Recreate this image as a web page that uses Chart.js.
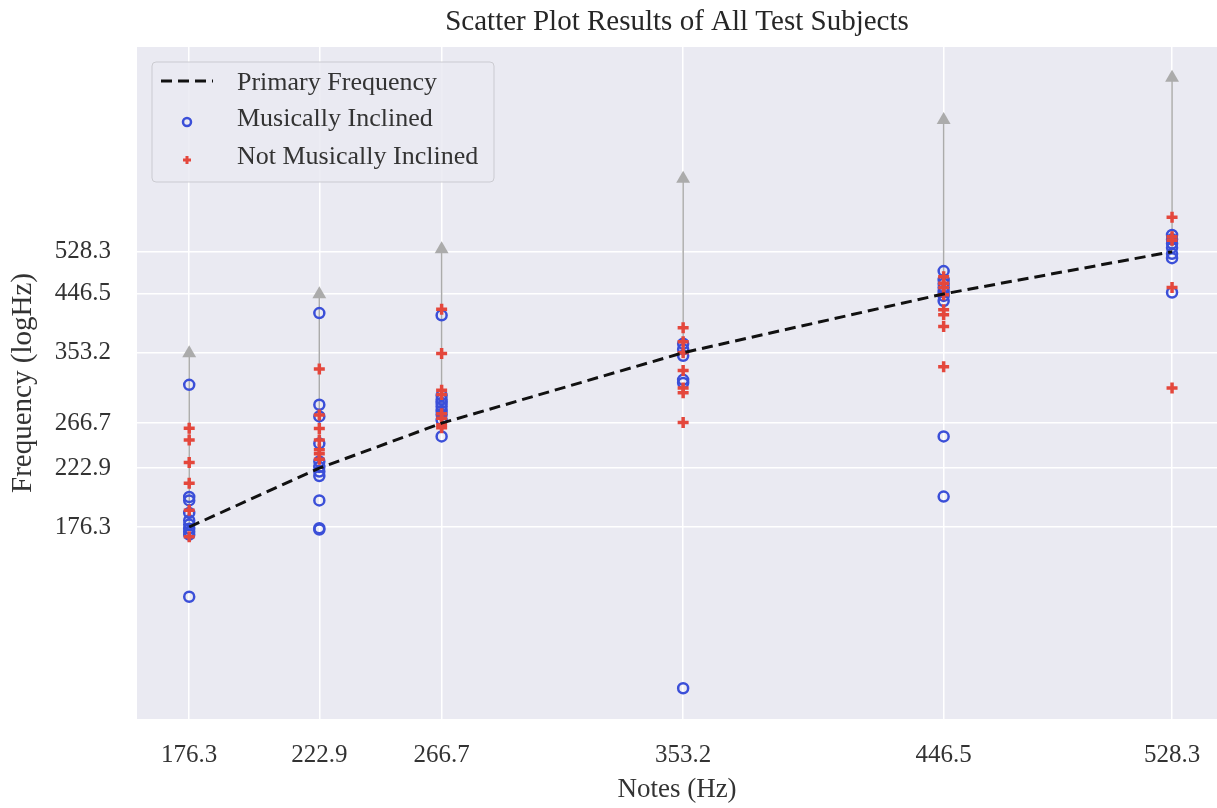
<!DOCTYPE html>
<html>
<head>
<meta charset="utf-8">
<title>Scatter Plot Results of All Test Subjects</title>
<script src="https://cdn.jsdelivr.net/npm/chart.js@4.4.1/dist/chart.umd.min.js"></script>
<style>
  html, body { margin: 0; padding: 0; background: #ffffff; overflow: hidden; }
  #wrap { width: 1217px; height: 808px; position: relative; }
  #myChart { display: block; }
</style>
</head>
<body>
<div id="wrap"><canvas id="myChart"></canvas></div>
<script>
// Notes played (Hz) and the octave above each one (end of the grey arrows)
const notes = [176.3, 222.9, 266.7, 353.2, 446.5, 528.3];
const octaves = [352.6, 445.8, 533.4, 706.4, 893.0, 1056.6];

// Answers of the musically inclined subjects, one list per note
const musical176 = [310.8, 198.7, 196, 186.5, 181, 178, 175, 173, 171, 133.5];
const musical223 = [413.6, 287, 274, 246, 229, 224, 220, 216, 196, 175.5, 174.5];
const musical267 = [410, 298, 293, 289, 285, 280, 276, 270, 253];
const musical353 = [366, 358, 349, 317, 313, 92.7];
const musical447 = [489, 472, 465, 458, 450, 443, 434, 253, 199];
const musical528 = [565, 555, 546, 537, 524, 515, 449];

// Answers of the not musically inclined subjects
const nonMusical176 = [261.4, 249.5, 228, 210, 188.5, 169.5];
const nonMusical223 = [331, 275.5, 261, 249.5, 240, 236, 231];
const nonMusical267 = [420, 352, 304, 299, 277, 272, 265, 262];
const nonMusical353 = [390, 369, 353, 329, 307, 301, 267.5];
const nonMusical447 = [478, 466, 458, 445, 419, 411, 392, 334];
const nonMusical528 = [606, 561, 553, 458, 307];

const musical = [musical176, musical223, musical267, musical353, musical447, musical528];
const nonMusical = [nonMusical176, nonMusical223, nonMusical267, nonMusical353, nonMusical447, nonMusical528];

const chartTitle = "Scatter Plot Results of All Test Subjects";

const serif = '"Liberation Serif", "Times New Roman", serif';
const textColor = "#333333";
const blue = "#3b4fd8";
const red = "#e4473c";

const toPoints = (lists) =>
  notes.flatMap((n, i) => lists[i].map((v) => ({ x: n, y: v })));

// one small dataset per arrow: from the note up to its octave
const arrowSets = notes.map((n, i) => ({
  label: "arrow",
  data: [{ x: n, y: n }, { x: n, y: octaves[i] }],
  showLine: true,
  borderColor: "#ababab",
  backgroundColor: "#ababab",
  borderWidth: 1.5,
  pointStyle: "triangle",
  pointRadius: [0, 8],
  pointBorderWidth: 0,
  order: 10,
}));

const primarySet = {
  label: "Primary Frequency",
  data: notes.map((n) => ({ x: n, y: n })),
  showLine: true,
  borderColor: "#111111",
  borderWidth: 3,
  borderDash: [11, 6],
  pointRadius: 0,
  order: 1,
};

const musicalSet = {
  label: "Musically Inclined",
  data: toPoints(musical),
  pointStyle: "circle",
  pointRadius: 5,
  borderWidth: 2.5,
  borderColor: blue,
  backgroundColor: "rgba(0,0,0,0)",
  order: 3,
};

const nonMusicalSet = {
  label: "Not Musically Inclined",
  data: toPoints(nonMusical),
  pointStyle: "cross",
  pointRadius: 5.5,
  borderWidth: 3.5,
  borderColor: red,
  backgroundColor: red,
  order: 2,
};

// grey plot background like seaborn darkgrid, plus the title centred on the plot
const plotBackground = {
  id: "plotBackground",
  beforeDraw(chart) {
    const { ctx, chartArea } = chart;
    ctx.save();
    ctx.fillStyle = "#eaeaf2";
    ctx.fillRect(chartArea.left, chartArea.top, chartArea.right - chartArea.left, chartArea.bottom - chartArea.top);
    ctx.fillStyle = "#262626";
    ctx.font = "29px " + serif;
    ctx.textAlign = "center";
    ctx.textBaseline = "middle";
    ctx.fillText(chartTitle, (chartArea.left + chartArea.right) / 2, 22);
    ctx.restore();
  },
};

// legend box inside the plot, upper left
const innerLegend = {
  id: "innerLegend",
  afterDraw(chart) {
    const ctx = chart.ctx;
    const x0 = chart.chartArea.left + 15;
    const y0 = chart.chartArea.top + 15;
    const w = 342;
    const h = 120;
    ctx.save();
    ctx.beginPath();
    ctx.roundRect(x0, y0, w, h, 4);
    ctx.fillStyle = "rgba(234,234,242,0.85)";
    ctx.fill();
    ctx.strokeStyle = "rgba(200,200,205,0.9)";
    ctx.lineWidth = 1;
    ctx.stroke();

    const rows = [y0 + 19, y0 + 57, y0 + 95];
    const markX = x0 + 35;

    // dashed line sample
    ctx.beginPath();
    ctx.setLineDash([11, 6]);
    ctx.lineWidth = 3;
    ctx.strokeStyle = "#111111";
    ctx.moveTo(x0 + 9, rows[0]);
    ctx.lineTo(x0 + 61, rows[0]);
    ctx.stroke();
    ctx.setLineDash([]);

    // circle sample
    ctx.beginPath();
    ctx.lineWidth = 2.5;
    ctx.strokeStyle = blue;
    ctx.arc(markX, rows[1] + 3, 4, 0, Math.PI * 2);
    ctx.stroke();

    // plus sample
    ctx.beginPath();
    ctx.lineWidth = 3;
    ctx.strokeStyle = red;
    ctx.moveTo(markX - 4, rows[2] + 3);
    ctx.lineTo(markX + 4, rows[2] + 3);
    ctx.moveTo(markX, rows[2] - 1);
    ctx.lineTo(markX, rows[2] + 7);
    ctx.stroke();

    ctx.fillStyle = textColor;
    ctx.font = "26px " + serif;
    ctx.textBaseline = "middle";
    ctx.textAlign = "left";
    ctx.fillText(primarySet.label, x0 + 85, rows[0] + 2);
    ctx.fillText(musicalSet.label, x0 + 85, rows[1]);
    ctx.fillText(nonMusicalSet.label, x0 + 85, rows[2]);
    ctx.restore();
  },
};

const config = {
  type: "scatter",
  data: {
    datasets: [...arrowSets, primarySet, musicalSet, nonMusicalSet],
  },
  options: {
    responsive: true,
    maintainAspectRatio: false,
    animation: false,
    layout: { autoPadding: false, padding: { left: 0, right: 0, top: 47, bottom: 0 } },
    plugins: {
      legend: { display: false },
      tooltip: { enabled: false },
      title: { display: false },
    },
    scales: {
      x: {
        type: "linear",
        min: 157.6,
        max: 544.4,
        afterBuildTicks: (scale) => {
          scale.ticks = notes.map((v) => ({ value: v }));
        },
        afterFit: (scale) => {
          scale.height = 89;
          scale.paddingLeft = 0;
          scale.paddingRight = 0;
        },
        ticks: {
          color: textColor,
          font: { family: serif, size: 25 },
          padding: 21,
          callback: (v) => Number(v).toFixed(1),
          maxRotation: 0,
          autoSkip: false,
        },
        grid: { color: "#ffffff", lineWidth: 1.5, drawTicks: false },
        border: { display: false },
        title: {
          display: true,
          text: "Notes (Hz)",
          color: textColor,
          font: { family: serif, size: 27 },
          padding: { top: 0, bottom: 2 },
        },
      },
      y: {
        type: "logarithmic",
        min: 82,
        max: 1195,
        afterBuildTicks: (scale) => {
          scale.ticks = notes.map((v) => ({ value: v }));
        },
        afterFit: (scale) => {
          scale.width = 137;
          scale.paddingTop = 0;
          scale.paddingBottom = 0;
        },
        ticks: {
          color: textColor,
          font: { family: serif, size: 25 },
          padding: 26,
          callback: (v) => Number(v).toFixed(1),
          autoSkip: false,
        },
        grid: { color: "#ffffff", lineWidth: 1.5, drawTicks: false },
        border: { display: false },
        title: {
          display: true,
          text: "Frequency (logHz)",
          color: textColor,
          font: { family: serif, size: 29 },
          padding: { top: 6, bottom: 0 },
        },
      },
    },
  },
  plugins: [plotBackground, innerLegend],
};

const ctx = document.getElementById("myChart").getContext("2d");
const myChart = new Chart(ctx, config);
</script>
</body>
</html>
